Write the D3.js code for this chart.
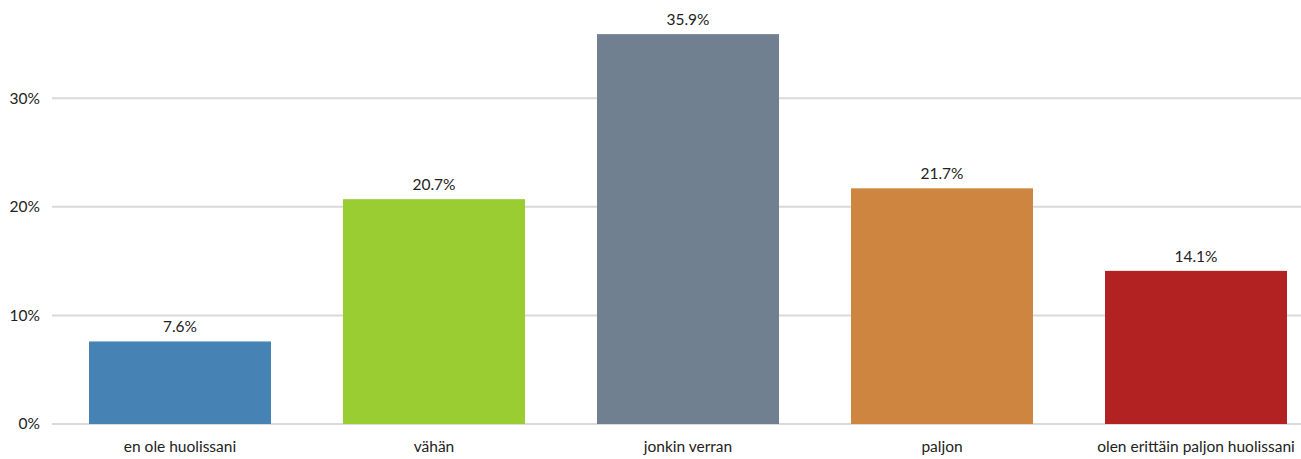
<!DOCTYPE html>
<html><head><meta charset="utf-8">
<script src="https://cdn.jsdelivr.net/npm/d3@7"></script>
<style>body{margin:0;background:#fff;overflow:hidden}svg text{font-family:Lato,"Open Sans",sans-serif;fill:#222;font-size:15.5px}</style>
</head><body><svg id="c" width="1301" height="459"></svg>
<script>
const categories = ["en ole huolissani","vähän","jonkin verran","paljon","olen erittäin paljon huolissani"];
const values = [7.6, 20.7, 35.9, 21.7, 14.1];
const colors = ["#4682B4","#9ACD32","#708090","#CD853F","#B22222"];
const yTicks = [0, 10, 20, 30];

const svg = d3.select("#c");
const x = d3.scaleBand().domain(categories).range([53, 1323]).paddingInner(0.2835).paddingOuter(0.1417);
const y = d3.scaleLinear().domain([0, 10]).range([424, 315.4]);

svg.append("g").selectAll("line").data(yTicks).join("line")
  .attr("x1", 52).attr("x2", 1301)
  .attr("y1", d => y(d)).attr("y2", d => y(d))
  .attr("stroke", "#d9d9d9").attr("stroke-width", 2);

svg.append("g").selectAll("text").data(yTicks).join("text")
  .attr("x", 40).attr("y", d => y(d)).attr("dy", "0.35em")
  .attr("text-anchor", "end").text(d => d + "%");

svg.append("g").selectAll("rect").data(values).join("rect")
  .attr("x", (d, i) => x(categories[i])).attr("width", x.bandwidth())
  .attr("y", d => y(d)).attr("height", d => y(0) - y(d))
  .attr("fill", (d, i) => colors[i]);

svg.append("g").selectAll("text").data(values).join("text")
  .attr("x", (d, i) => x(categories[i]) + x.bandwidth() / 2)
  .attr("y", d => y(d) - 9).attr("text-anchor", "middle")
  .text(d => d.toFixed(1) + "%");

svg.append("g").selectAll("text").data(categories).join("text")
  .attr("x", d => x(d) + x.bandwidth() / 2).attr("y", 452)
  .attr("text-anchor", "middle").text(d => d);
</script></body></html>
